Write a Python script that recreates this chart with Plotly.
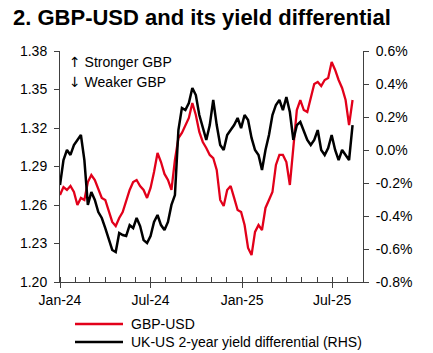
import pandas as pd
import plotly.graph_objects as go

dates = pd.date_range("2024-01-01", periods=85, freq="7D")

gbp_usd = [
    1.2678, 1.2740, 1.2717, 1.2748, 1.2701, 1.2600, 1.2655, 1.2639, 1.2779, 1.2834,
    1.2795, 1.2717, 1.2655, 1.2639, 1.2561, 1.2468, 1.2436, 1.2499, 1.2545, 1.2639,
    1.2717, 1.2779, 1.2795, 1.2748, 1.2717, 1.2655, 1.2733, 1.2857, 1.3005, 1.2935,
    1.2842, 1.2795, 1.2717, 1.2951, 1.3122, 1.3161, 1.3223, 1.3278, 1.3395, 1.3301,
    1.3169, 1.3091, 1.3044, 1.2990, 1.2966, 1.2873, 1.2639, 1.2592, 1.2717, 1.2748,
    1.2655, 1.2561, 1.2545, 1.2444, 1.2265, 1.2210, 1.2390, 1.2444, 1.2405, 1.2577,
    1.2639, 1.2701, 1.2912, 1.2990, 1.2990, 1.2935, 1.2756, 1.3068, 1.3340, 1.3418,
    1.3340, 1.3325, 1.3434, 1.3543, 1.3558, 1.3527, 1.3574, 1.3590, 1.3714, 1.3652,
    1.3574, 1.3512, 1.3418, 1.3223, 1.3418,
]

yield_diff = [
    -0.212, -0.061, 0.000, -0.030, 0.030, 0.061, 0.091, -0.061, -0.333, -0.255,
    -0.303, -0.376, -0.412, -0.473, -0.533, -0.606, -0.618, -0.503, -0.515, -0.521,
    -0.455, -0.473, -0.412, -0.461, -0.546, -0.564, -0.521, -0.436, -0.394, -0.455,
    -0.485, -0.436, -0.333, -0.273, 0.121, 0.255, 0.242, 0.285, 0.376, 0.333,
    0.212, 0.133, 0.061, 0.151, 0.303, 0.151, 0.030, 0.000, 0.091, 0.121,
    0.151, 0.194, 0.133, 0.212, 0.182, 0.073, 0.000, -0.030, -0.121, 0.000,
    0.091, 0.212, 0.273, 0.303, 0.242, 0.321, 0.230, 0.061, 0.151, 0.170,
    0.121, 0.061, 0.030, 0.061, 0.121, 0.000, -0.030, 0.012, 0.091, 0.000,
    -0.061, 0.000, -0.030, -0.061, 0.151,
]

series_names = ["GBP-USD", "UK-US 2-year yield differential (RHS)"]
left_ticks = [1.20, 1.23, 1.26, 1.29, 1.32, 1.35, 1.38]
right_ticks = [-0.8, -0.6, -0.4, -0.2, 0.0, 0.2, 0.4, 0.6]
right_tick_text = ["-0.8%", "-0.6%", "-0.4%", "-0.2%", "0.0%", "0.2%", "0.4%", "0.6%"]
x_ticks = ["2024-01-01", "2024-07-01", "2025-01-01", "2025-07-01"]
x_tick_text = ["Jan-24", "Jul-24", "Jan-25", "Jul-25"]

FONT = "Liberation Sans, Arial, sans-serif"
RED = "#e2001a"
BLACK = "#000000"
W, H = 433, 353
L, R, T, B = 60, 70, 51, 71
PW, PH = W - L - R, H - T - B

fig = go.Figure()
fig.add_trace(go.Scatter(x=dates, y=gbp_usd, name=series_names[0], mode="lines",
                         line=dict(color=RED, width=2.3), yaxis="y"))
fig.add_trace(go.Scatter(x=dates, y=yield_diff, name=series_names[1],
                         mode="lines", line=dict(color=BLACK, width=2.5), yaxis="y2"))

axis_common = dict(showgrid=False, zeroline=False, showline=True, linecolor="#404040",
                   linewidth=1, tickcolor="#404040", ticklen=5, tickwidth=1,
                   tickfont=dict(family=FONT, size=14, color="#000000"))


def px_x(px):
    return (px - L) / PW


def px_y(py):
    return (H - B - py) / PH


ARROW = "<span style='font-family:DejaVu Sans'>{}</span> "
shapes = []
annotations = [
    dict(text=ARROW.format("↑") + "Stronger GBP", x=px_x(67), y=px_y(62),
         xref="paper", yref="paper", xanchor="left", yanchor="middle", showarrow=False,
         font=dict(family=FONT, size=14, color="#000000")),
    dict(text=ARROW.format("↓") + "Weaker GBP", x=px_x(67), y=px_y(82),
         xref="paper", yref="paper", xanchor="left", yanchor="middle", showarrow=False,
         font=dict(family=FONT, size=14, color="#000000")),
]
for name, color, py in [(series_names[0], RED, 324), (series_names[1], BLACK, 342)]:
    shapes.append(dict(type="line", xref="paper", yref="paper",
                       x0=px_x(75), x1=px_x(123), y0=px_y(py), y1=px_y(py),
                       line=dict(color=color, width=2.5)))
    annotations.append(dict(text=name, x=px_x(129), y=px_y(py), xref="paper", yref="paper",
                            xanchor="left", yanchor="middle", showarrow=False,
                            font=dict(family=FONT, size=14, color="#000000")))

fig.update_layout(
    width=W, height=H,
    margin=dict(l=L, r=R, t=T, b=B),
    paper_bgcolor="white", plot_bgcolor="white",
    font=dict(family=FONT, size=14, color="#000000"),
    title=dict(text="<b>2. GBP-USD and its yield differential</b>",
               x=13 / W, xanchor="left", xref="container",
               y=1 - 17 / H, yanchor="middle", yref="container",
               font=dict(family=FONT, size=22, color="#000000")),
    xaxis=dict(type="date", range=["2024-01-01", "2025-09-01"],
               tickvals=x_ticks, ticktext=x_tick_text, ticks="outside",
               minor=dict(dtick="M1", ticks="inside", ticklen=5, tickcolor="#404040"),
               **axis_common),
    yaxis=dict(range=[1.20, 1.38], tickvals=left_ticks,
               ticktext=[f"{v:.2f}" for v in left_ticks], ticks="outside",
               ticklabelstandoff=4, **axis_common),
    yaxis2=dict(range=[-0.8, 0.6], tickvals=right_ticks, ticktext=right_tick_text,
                overlaying="y", side="right", ticks="outside",
                ticklabelstandoff=4, **axis_common),
    showlegend=False,
    shapes=shapes,
    annotations=annotations,
)

fig.write_html("out.html")
